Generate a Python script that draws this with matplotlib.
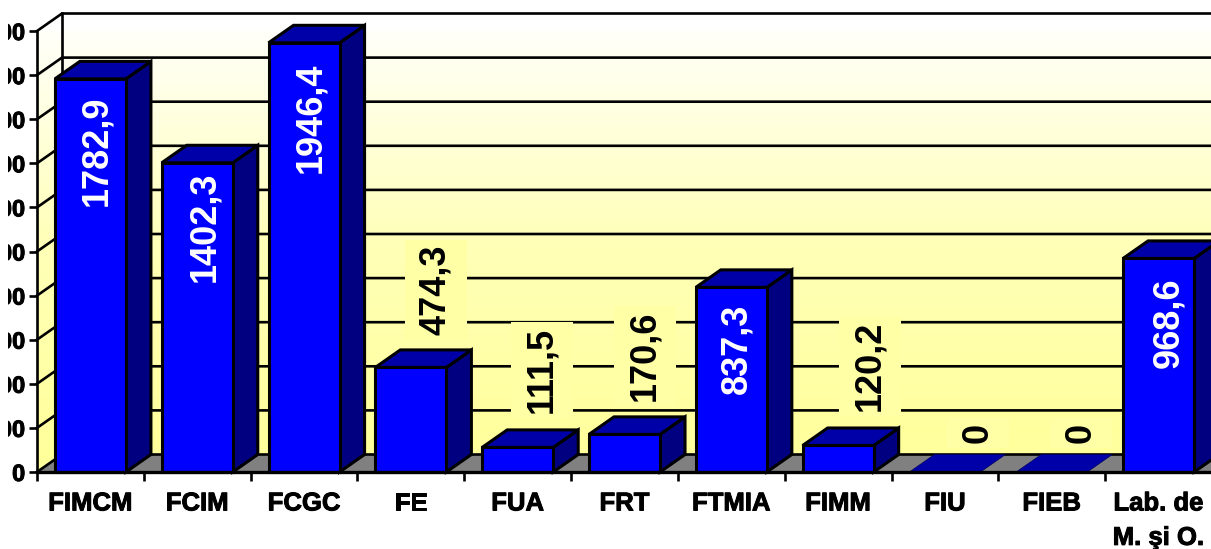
import numpy as np
import matplotlib
matplotlib.use("Agg")
import matplotlib.pyplot as plt
import matplotlib.patheffects as pe
from matplotlib.patches import Polygon, Rectangle
from matplotlib.transforms import Bbox, TransformedBbox, IdentityTransform
from matplotlib.colors import LinearSegmentedColormap

categories = ["FIMCM", "FCIM", "FCGC", "FE", "FUA", "FRT", "FTMIA", "FIMM", "FIU", "FIEB", "Lab. de\nM. şi O."]
values = [1782.9, 1402.3, 1946.4, 474.3, 111.5, 170.6, 837.3, 120.2, 0, 0, 968.6]
value_labels = ["1782,9", "1402,3", "1946,4", "474,3", "111,5", "170,6", "837,3", "120,2", "0", "0", "968,6"]
y_ticks = [0, 200, 400, 600, 800, 1000, 1200, 1400, 1600, 1800, 2000]

# label offsets from the bar centre / top, in pixels
label_dx = [6, 8, 7, 25, 24, 20, 6, 32, 33, 29, 10]
label_dy = [-17, -9, -20, 32, 34, 33, -16, 34, 29, 29, -19]

W, H = 1211, 549
LEFT, RIGHT, BASE, TOP = 37, 1212, 472, 31
DEPTH_X, DEPTH_Y = 25, 17.5
BOX_W, BOX_PAD = 62, 5
plt.rcParams["font.family"] = ["Liberation Sans", "DejaVu Sans"]
plt.rcParams["font.weight"] = "bold"

fig = plt.figure(figsize=(W / 100, H / 100), dpi=100, facecolor="white")
ax = fig.add_axes([LEFT / W, (H - BASE) / H, (RIGHT - LEFT) / W, (BASE - TOP) / H], facecolor="none")
n = len(categories)
ymax = y_ticks[-1]
dx = DEPTH_X * n / (RIGHT - LEFT)
dy = DEPTH_Y * ymax / (BASE - TOP)

# walls with a vertical gradient
cmap = LinearSegmentedColormap.from_list("wall", ["#FFFF99", "#FFFFB8", "#FFFFFF"])
wall = ax.imshow(np.linspace(0, 1, 256).reshape(-1, 1), cmap=cmap, origin="lower", aspect="auto",
                 extent=(0, n + dx, 0, ymax + dy), zorder=0)
clip_poly = Polygon([(0, 0), (dx, dy), (n + dx, dy), (n + dx, ymax + dy), (dx, ymax + dy), (0, ymax)],
                    closed=True, transform=ax.transData)
wall.set_clip_path(clip_poly)
ax.set_xlim(0, n)
ax.set_ylim(0, ymax)

# floor
ax.add_patch(Polygon([(0, 0), (n, 0), (n + dx, dy), (dx, dy)], closed=True, fc="#808080", ec="none",
                     zorder=1, clip_on=False))

# gridlines on the side and back walls
for v in y_ticks:
    ax.plot([0, dx, n + dx], [v, v + dy, v + dy], color="black", lw=1.9, zorder=2, clip_on=False,
            solid_joinstyle="miter")
ax.plot([dx, dx], [dy, ymax + dy], color="black", lw=1.9, zorder=2, clip_on=False)

# bars
bar_w = 0.665
edge_w = 2.2
for i, v in enumerate(values):
    x0 = i + 0.5 - bar_w / 2
    x1 = x0 + bar_w
    z = 3 + i * 0.01
    if v > 0:
        ax.add_patch(Polygon([(x1, 0), (x1 + dx, dy), (x1 + dx, v + dy), (x1, v)], closed=True, fc="#000080",
                             ec="black", lw=edge_w, zorder=z, clip_on=False, joinstyle="miter"))
        ax.add_patch(Polygon([(x0, 0), (x1, 0), (x1, v), (x0, v)], closed=True, fc="#0000FF", ec="black",
                             lw=edge_w, zorder=z, clip_on=False, joinstyle="miter"))
    ax.add_patch(Polygon([(x0, v), (x1, v), (x1 + dx, v + dy), (x0 + dx, v + dy)], closed=True, fc="#0000A8",
                         ec="black" if v > 0 else "#000060", lw=edge_w if v > 0 else 0.5, zorder=z,
                         clip_on=False, joinstyle="miter"))

# value labels
texts = []
for i, (v, s) in enumerate(zip(values, value_labels)):
    inside = label_dy[i] < 0
    colour = "white" if inside else "black"
    t = ax.annotate(s, xy=(i + 0.5, v), xytext=(label_dx[i], label_dy[i]), rotation=90, ha="center",
                    va="top" if inside else "bottom", fontsize=26, fontweight="bold", color=colour,
                    textcoords="offset pixels", zorder=5, annotation_clip=False)
    texts.append((t, inside))

# axes furniture
for side in ("top", "right"):
    ax.spines[side].set_visible(False)
ax.spines["left"].set_linewidth(1.9)
ax.spines["bottom"].set_linewidth(2.4)
for sp in ax.spines.values():
    sp.set_zorder(6)

heavy = [pe.withStroke(linewidth=0.7, foreground="black")]

ax.set_yticks(y_ticks)
ax.set_yticklabels([str(v) for v in y_ticks], fontsize=17, fontweight="bold", path_effects=heavy)
ax.tick_params(axis="y", length=6, width=1.9, pad=2.5)
clip = TransformedBbox(Bbox([[8 / W, 0], [1, 1]]), fig.transFigure)
for lab in ax.get_yticklabels():
    lab.set_clip_box(clip)
    lab.set_clip_on(True)

ax.set_xticks(np.arange(n + 1))
ax.set_xticklabels([])
ax.set_xticks(np.arange(n) + 0.5, minor=True)
ax.set_xticklabels(categories, minor=True, fontsize=18.5, fontweight="bold", linespacing=1.55, path_effects=heavy)
ax.tick_params(axis="x", which="major", length=6.5, width=1.9)
ax.tick_params(axis="x", which="minor", length=0, pad=14)

# pale boxes behind the labels that sit on the wall
fig.canvas.draw()
renderer = fig.canvas.get_renderer()
for t, inside in texts:
    if not inside:
        bb = t.get_window_extent(renderer)
        cx = (bb.x0 + bb.x1) / 2
        ax.add_patch(Rectangle((cx - BOX_W / 2, bb.y0 - BOX_PAD), BOX_W, bb.height + 2 * BOX_PAD,
                               transform=IdentityTransform(), fc="#FFFFA6", ec="none", zorder=2.5, clip_on=False))

fig.savefig("out.png", dpi=100, facecolor="white")
